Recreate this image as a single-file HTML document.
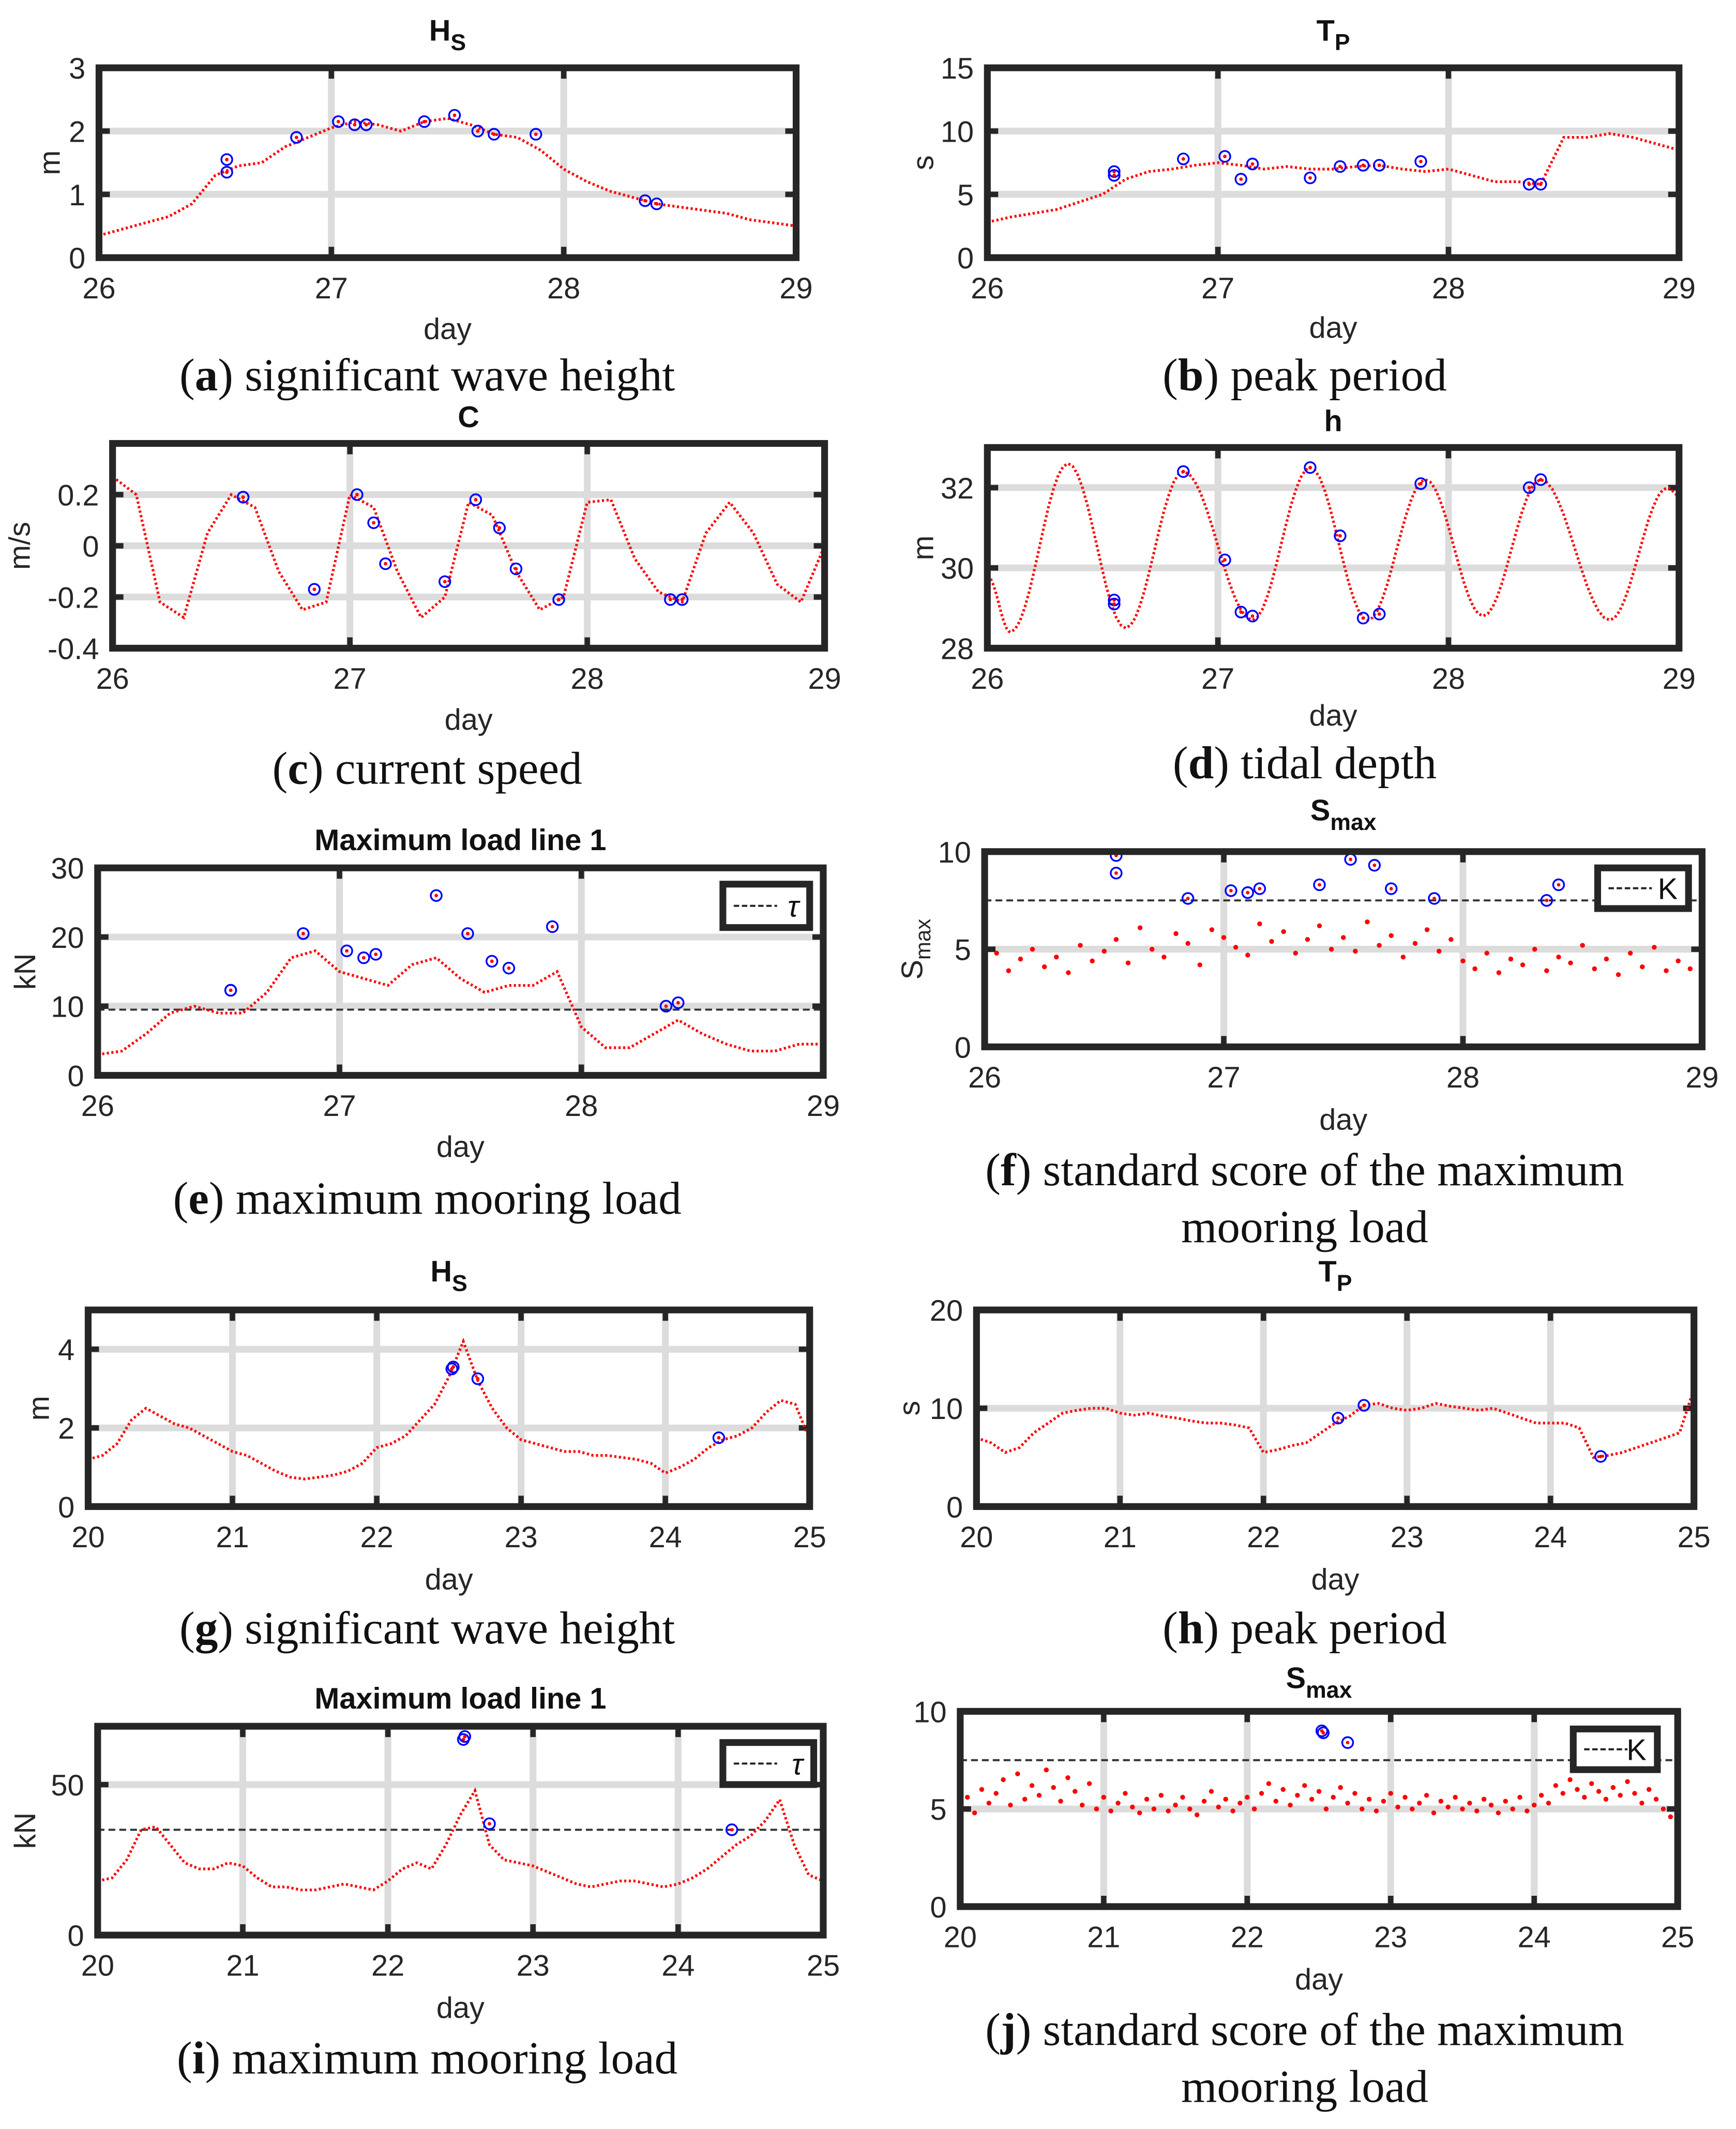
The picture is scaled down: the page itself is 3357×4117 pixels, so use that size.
<!DOCTYPE html>
<html><head><meta charset="utf-8"><style>
html,body{margin:0;padding:0;background:#fff}
svg{display:block}
</style></head><body>
<svg id="fig" xmlns="http://www.w3.org/2000/svg" width="3357" height="4117" viewBox="0 0 1280 1570" preserveAspectRatio="none"></svg>
<script>
// ---------- DATA ----------
const daysA=[26,26.1,26.2,26.3,26.4,26.5,26.6,26.7,26.8,26.9,27,27.1,27.2,27.3,27.4,27.5,27.6,27.7,27.8,27.9,28,28.1,28.2,28.3,28.4,28.5,28.6,28.7,28.8,28.9,29];
const hsA=[0.35,0.45,0.55,0.65,0.85,1.3,1.45,1.5,1.75,1.9,2.05,2.15,2.1,2.0,2.15,2.2,2.1,1.95,1.9,1.7,1.4,1.2,1.05,0.95,0.85,0.8,0.75,0.7,0.6,0.55,0.5];
const anomDaysA=[26.55,26.55,26.85,27.03,27.1,27.15,27.4,27.53,27.63,27.7,27.88,28.35,28.4];
const hsAnomA=[1.55,1.35,1.9,2.15,2.1,2.1,2.15,2.25,2.0,1.95,1.95,0.9,0.85];
const tpA=[2.8,3.2,3.5,3.8,4.4,5.0,6.2,6.8,7.0,7.3,7.5,7.3,7.0,7.2,7.0,7.0,7.2,7.3,7.0,6.8,7.0,6.5,6.0,6.0,5.8,9.5,9.5,9.8,9.5,9.0,8.5];
const tpAnomA=[6.8,6.5,7.8,8.0,6.2,7.4,6.3,7.2,7.3,7.3,7.6,5.8,5.8];
const curA=[0.27,0.2,-0.22,-0.28,0.05,0.2,0.15,-0.1,-0.25,-0.22,0.2,0.15,-0.1,-0.28,-0.2,0.17,0.12,-0.1,-0.25,-0.2,0.17,0.18,-0.05,-0.18,-0.22,0.05,0.17,0.05,-0.15,-0.22,0];
const curAnomA=[0.19,0.19,-0.17,0.2,0.09,-0.07,-0.14,0.18,0.07,-0.09,-0.21,-0.21,-0.21];
const tideT=[26.0,26.1,26.35,26.6,26.85,27.15,27.4,27.65,27.9,28.15,28.4,28.7,28.95,29.0];
const tideH=[29.8,28.4,32.6,28.5,32.4,28.7,32.5,28.7,32.2,28.8,32.2,28.7,32.0,31.8];
const tideAnomA=[29.2,29.1,32.4,30.2,28.9,28.8,32.5,30.8,28.75,28.85,32.1,32.0,32.2];
const loadA=[3,3.5,6,9,10,9,9,12,17,18,15,14,13,16,17,14,12,13,13,15,7,4,4,6,8,6,4.5,3.5,3.5,4.5,4.5];
const loadAnomA=[12.3,12.3,20.5,18,17,17.5,26,20.5,16.5,15.5,21.5,10,10.5];
const tauA=[9.5];
const smaxDaysA=[26,26.05,26.1,26.15,26.2,26.25,26.3,26.35,26.4,26.45,26.5,26.55,26.6,26.65,26.7,26.75,26.8,26.85,26.9,26.95,27,27.05,27.1,27.15,27.2,27.25,27.3,27.35,27.4,27.45,27.5,27.55,27.6,27.65,27.7,27.75,27.8,27.85,27.9,27.95,28,28.05,28.1,28.15,28.2,28.25,28.3,28.35,28.4,28.45,28.5,28.55,28.6,28.65,28.7,28.75,28.8,28.85,28.9,28.95,29];
const smaxA=[4.2,4.8,3.9,4.5,5.0,4.1,4.6,3.8,5.2,4.4,4.9,5.5,4.3,6.1,5.0,4.6,5.8,5.3,4.2,6.0,5.6,5.1,4.7,6.3,5.4,5.9,4.8,5.5,6.2,5.0,5.6,4.9,6.4,5.2,5.7,4.6,5.3,6.0,4.9,5.5,4.4,4.0,4.8,3.8,4.5,4.2,5.0,3.9,4.6,4.3,5.2,4.0,4.5,3.7,4.8,4.1,5.1,3.9,4.4,4.0,4.6];
const smaxAnomA=[9.8,8.9,7.6,8.0,7.9,8.1,8.3,9.6,9.3,8.1,7.6,7.5,8.3];
const kA=[7.5];

const daysB=[20,20.1,20.2,20.3,20.4,20.5,20.6,20.7,20.8,20.9,21,21.1,21.2,21.3,21.4,21.5,21.6,21.7,21.8,21.9,22,22.1,22.2,22.3,22.4,22.5,22.6,22.7,22.8,22.9,23,23.1,23.2,23.3,23.4,23.5,23.6,23.7,23.8,23.9,24,24.1,24.2,24.3,24.4,24.5,24.6,24.7,24.8,24.9,25];
const hsB=[1.2,1.3,1.6,2.2,2.5,2.3,2.1,2.0,1.8,1.6,1.4,1.3,1.1,0.9,0.75,0.7,0.75,0.8,0.9,1.1,1.5,1.6,1.8,2.2,2.6,3.3,4.2,3.2,2.5,2.0,1.7,1.6,1.5,1.4,1.4,1.3,1.3,1.25,1.2,1.1,0.85,1.0,1.2,1.5,1.7,1.8,2.0,2.4,2.7,2.6,1.7];
const anomDaysB=[22.52,22.53,22.7,24.37];
const hsAnomB=[3.5,3.55,3.25,1.75];
const tpB=[7,6.5,5.5,6,7.5,8.5,9.5,9.8,10,10,9.5,9.3,9.5,9.2,9,8.7,8.5,8.5,8.3,8,5.5,5.8,6.2,6.5,7.5,8.5,9.2,10.3,10.5,10,9.8,10,10.5,10.2,10,9.8,10,9.5,9,8.5,8.5,8.5,8.0,5,5.2,5.5,6,6.5,7,7.5,12];
const tpAnomDaysB=[22.52,22.7,24.35];
const tpAnomB=[9,10.3,5.1];
const loadB=[18,19,25,35,36,30,24,22,22,24,23,19,16,16,15,15,16,17,16,15,18,22,24,22,30,40,48,30,25,24,23,21,19,17,16,17,18,18,17,16,17,19,22,26,30,33,38,45,30,20,18];
const loadAnomB=[65,66,37,35];
const tauB=[35];
const smaxDaysB=[];for(let i=0;i<=100;i++)smaxDaysB.push(20+i*0.05);
const smaxB=[5.0,5.6,4.8,6.0,5.3,5.8,6.5,5.2,6.8,5.5,6.2,5.7,7.0,6.1,5.4,6.6,5.9,5.2,6.3,5.0,5.6,4.9,5.3,5.8,5.1,4.8,5.5,5.0,5.7,4.9,5.2,5.6,5.0,4.7,5.4,5.9,5.1,5.5,4.9,5.3,5.6,5.0,5.8,6.3,5.4,6.0,5.2,5.7,6.2,5.5,5.9,5.0,5.6,6.1,5.3,5.8,5.0,5.5,4.9,5.4,5.8,5.1,5.6,5.0,5.3,5.7,4.8,5.4,5.1,5.6,5.0,5.3,4.9,5.5,5.2,4.8,5.4,5.0,5.6,4.9,5.2,5.7,5.3,6.2,5.8,6.5,6.0,5.6,6.3,5.9,5.5,6.1,5.7,6.4,5.8,5.3,6.0,5.5,5.0,4.6,4.2];
const smaxAnomDaysB=[22.52,22.53,22.7];
const smaxAnomB=[9,8.9,8.4];
const kB=[7.5];

// ---------- DRAWING ----------
const NS='http://www.w3.org/2000/svg';
const svg=document.getElementById('fig');
function mk(tag,attrs,parent){const e=document.createElementNS(NS,tag);for(const k in attrs)e.setAttribute(k,attrs[k]);(parent||svg).appendChild(e);return e;}
function txt(s,x,y,size,parent,anchor,extra){const t=mk('text',Object.assign({x:x,y:y,'font-size':size,'text-anchor':anchor||'middle','font-family':'Liberation Sans, sans-serif',fill:'#262626'},extra||{}),parent);t.textContent=s;return t;}

function panel(c){
  const g=mk('g',{});
  
  
  const sx=v=>c.x0+(v-c.xmin)/(c.xmax-c.xmin)*(c.x1-c.x0);
  const sy=v=>c.y1-(v-c.ymin)/(c.ymax-c.ymin)*(c.y1-c.y0);
  c.xticks.forEach(v=>{const l=mk('line',{x1:sx(v),x2:sx(v),y1:c.y0,y2:c.y1,stroke:'#dcdcdc','stroke-width':5},g);});
  c.yticks.forEach(v=>{const l=mk('line',{x1:c.x0,x2:c.x1,y1:sy(v),y2:sy(v),stroke:'#dcdcdc','stroke-width':5},g);});
  c.xticks.forEach(v=>{mk('line',{x1:sx(v),x2:sx(v),y1:c.y1,y2:c.y1-8,stroke:'#262626','stroke-width':4},g);mk('line',{x1:sx(v),x2:sx(v),y1:c.y0,y2:c.y0+8,stroke:'#262626','stroke-width':4},g);});
  c.yticks.forEach(v=>{mk('line',{x1:c.x0,x2:c.x0+8,y1:sy(v),y2:sy(v),stroke:'#262626','stroke-width':4},g);mk('line',{x1:c.x1,x2:c.x1-8,y1:sy(v),y2:sy(v),stroke:'#262626','stroke-width':4},g);});
  if(c.thr){const l=mk('line',{x1:c.x0,x2:c.x1,y1:sy(c.thr[0]),y2:sy(c.thr[0]),stroke:'#333','stroke-width':1.5,'stroke-dasharray':'5 3'},g);}
  if(c.line){let d='';c.xs.forEach((x,i)=>{d+=(i?'L':'M')+sx(x).toFixed(1)+','+sy(c.ys[i]).toFixed(1);});
    const p=mk('path',{d:d,fill:'none',stroke:'#ff0000','stroke-width':2,'stroke-dasharray':'1.6 1.8'},g);}
  else{c.xs.forEach((x,i)=>{const p=mk('circle',{cx:sx(x),cy:sy(c.ys[i]),r:1.8,fill:'#ff0000'},g);});}
  c.ax.forEach((x,i)=>{const o=mk('circle',{cx:sx(x),cy:sy(c.ay[i]),r:4,fill:'none',stroke:'#0000ff','stroke-width':1.3},g);
    mk('circle',{cx:sx(x),cy:sy(c.ay[i]),r:1.3,fill:'#ff0000'},g);});
  const b=mk('rect',{x:c.x0,y:c.y0,width:c.x1-c.x0,height:c.y1-c.y0,fill:'none',stroke:'#262626','stroke-width':5},g);
  
  c.xticks.forEach(v=>{const t=txt(String(v),sx(v),c.y1+30,22,g);});
  c.yticks.forEach((v,i)=>{const t=txt(c.ylabels[i],c.x0-10,sy(v)+8,22,g,'end');});
  const dx=(c.x0+c.x1)/2;
  const xl=txt('day',dx,c.dayY,22,g);
  if(c.ylab){
  const yl=txt('',c.ylx,(c.y0+c.y1)/2,22,g,'middle',{transform:'rotate(-90 '+c.ylx+' '+((c.y0+c.y1)/2)+')'});
  
  if(c.ylSub){yl.textContent=c.ylab;const ts=mk('tspan',{'font-size':16,dy:6},yl);ts.textContent=c.ylSub;}else yl.textContent=c.ylab;}
  const tt=txt('',dx,c.titleY,22,g,'middle',{'font-weight':'bold',fill:'#111'});
  
  tt.textContent=c.title;
  if(c.titleSub){const ts=mk('tspan',{'font-size':17,dy:7},tt);ts.textContent=c.titleSub;}
  if(c.leg){const L=c.leg;const lg=mk('g',{},g);
    mk('rect',{x:L[0],y:L[1],width:L[2],height:L[3],fill:'#fff',stroke:'#262626','stroke-width':5},lg);
    mk('line',{x1:L[0]+8,x2:L[0]+40,y1:L[1]+L[3]/2,y2:L[1]+L[3]/2,stroke:'#222','stroke-width':1.5,'stroke-dasharray':'4 2'},lg);
    const lt=txt(L[4],L[0]+L[2]-8,L[1]+L[3]/2+8,22,lg,'end',{'font-style':L[4]==='τ'?'italic':'normal',fill:'#111'});}
  c.cap.forEach((line,i)=>{const t=mk('text',{x:c.capX,y:c.capY+i*42,'font-size':34,'text-anchor':'middle','font-family':'Liberation Serif, serif',fill:'#111'},g);
    
    if(i===0){const a=mk('tspan',{},t);a.textContent='(';const b2=mk('tspan',{'font-weight':'bold'},t);b2.textContent=c.letter;const d=mk('tspan',{},t);d.textContent=') '+line;}
    else t.textContent=line;});
}
const X3=[26,27,28,29],X5=[20,21,22,23,24,25];
panel({name:'panel-a-hs',x0:73,x1:587,y0:50,y1:190,xmin:26,xmax:29,ymin:0,ymax:3,xticks:X3,yticks:[0,1,2,3],ylabels:['0','1','2','3'],xs:daysA,ys:hsA,ax:anomDaysA,ay:hsAnomA,line:true,title:'H',titleSub:'S',titleY:30,ylab:'m',ylx:44,dayY:250,cap:['significant wave height'],letter:'a',capX:315,capY:288});
panel({name:'panel-b-tp',x0:728,x1:1238,y0:50,y1:190,xmin:26,xmax:29,ymin:0,ymax:15,xticks:X3,yticks:[0,5,10,15],ylabels:['0','5','10','15'],xs:daysA,ys:tpA,ax:anomDaysA,ay:tpAnomA,line:true,title:'T',titleSub:'P',titleY:30,ylab:'s',ylx:688,dayY:249,cap:['peak period'],letter:'b',capX:962,capY:288});
panel({name:'panel-c-current',x0:83,x1:608,y0:327,y1:478,xmin:26,xmax:29,ymin:-0.4,ymax:0.4,xticks:X3,yticks:[-0.4,-0.2,0,0.2],ylabels:['-0.4','-0.2','0','0.2'],xs:daysA,ys:curA,ax:anomDaysA,ay:curAnomA,line:true,title:'C',titleY:315,ylab:'m/s',ylx:22,dayY:538,cap:['current speed'],letter:'c',capX:315,capY:578});
const tideXs=[],tideYs=[];
for(let i=0;i<tideT.length-1;i++){for(let k=0;k<12;k++){const f=k/12;tideXs.push(tideT[i]+f*(tideT[i+1]-tideT[i]));tideYs.push(tideH[i]+(tideH[i+1]-tideH[i])*(1-Math.cos(Math.PI*f))/2);}}
tideXs.push(tideT[tideT.length-1]);tideYs.push(tideH[tideH.length-1]);
panel({name:'panel-d-tide',x0:728,x1:1238,y0:330,y1:478,xmin:26,xmax:29,ymin:28,ymax:33,xticks:X3,yticks:[28,30,32],ylabels:['28','30','32'],xs:tideXs,ys:tideYs,ax:anomDaysA,ay:tideAnomA,line:true,title:'h',titleY:318,ylab:'m',ylx:688,dayY:535,cap:['tidal depth'],letter:'d',capX:962,capY:574});
panel({name:'panel-e-load',x0:72,x1:607,y0:640,y1:793,xmin:26,xmax:29,ymin:0,ymax:30,xticks:X3,yticks:[0,10,20,30],ylabels:['0','10','20','30'],xs:daysA,ys:loadA,ax:anomDaysA,ay:loadAnomA,line:true,thr:tauA,title:'Maximum load line 1',titleY:627,ylab:'kN',ylx:26,dayY:853,leg:[533,652,64,32,'τ'],cap:['maximum mooring load'],letter:'e',capX:315,capY:895});
panel({name:'panel-f-smax',x0:726,x1:1255,y0:628,y1:772,xmin:26,xmax:29,ymin:0,ymax:10,xticks:X3,yticks:[0,5,10],ylabels:['0','5','10'],xs:smaxDaysA,ys:smaxA,ax:anomDaysA,ay:smaxAnomA,line:false,thr:kA,title:'S',titleSub:'max',titleY:605,ylab:'S',ylSub:'max',ylx:680,dayY:833,leg:[1178,640,67,30,'K'],cap:['standard score of the maximum','mooring load'],letter:'f',capX:962,capY:874});
panel({name:'panel-g-hs',x0:65,x1:597,y0:966,y1:1111,xmin:20,xmax:25,ymin:0,ymax:5,xticks:X5,yticks:[0,2,4],ylabels:['0','2','4'],xs:daysB,ys:hsB,ax:anomDaysB,ay:hsAnomB,line:true,title:'H',titleSub:'S',titleY:945,ylab:'m',ylx:36,dayY:1172,cap:['significant wave height'],letter:'g',capX:315,capY:1212});
panel({name:'panel-h-tp',x0:720,x1:1249,y0:966,y1:1111,xmin:20,xmax:25,ymin:0,ymax:20,xticks:X5,yticks:[0,10,20],ylabels:['0','10','20'],xs:daysB,ys:tpB,ax:tpAnomDaysB,ay:tpAnomB,line:true,title:'T',titleSub:'P',titleY:945,ylab:'s',ylx:678,dayY:1172,cap:['peak period'],letter:'h',capX:962,capY:1212});
panel({name:'panel-i-load',x0:72,x1:607,y0:1273,y1:1427,xmin:20,xmax:25,ymin:0,ymax:69.4,xticks:X5,yticks:[0,50],ylabels:['0','50'],xs:daysB,ys:loadB,ax:anomDaysB,ay:loadAnomB,line:true,thr:tauB,title:'Maximum load line 1',titleY:1260,ylab:'kN',ylx:26,dayY:1488,leg:[533,1285,67,31,'τ'],cap:['maximum mooring load'],letter:'i',capX:315,capY:1529});
panel({name:'panel-j-smax',x0:708,x1:1237,y0:1262,y1:1406,xmin:20,xmax:25,ymin:0,ymax:10,xticks:X5,yticks:[0,5,10],ylabels:['0','5','10'],xs:smaxDaysB,ys:smaxB,ax:smaxAnomDaysB,ay:smaxAnomB,line:false,thr:kB,title:'S',titleSub:'max',titleY:1245,ylab:'',ylx:670,dayY:1467,leg:[1160,1275,62,30,'K'],cap:['standard score of the maximum','mooring load'],letter:'j',capX:962,capY:1508});
</script>
</body></html>
